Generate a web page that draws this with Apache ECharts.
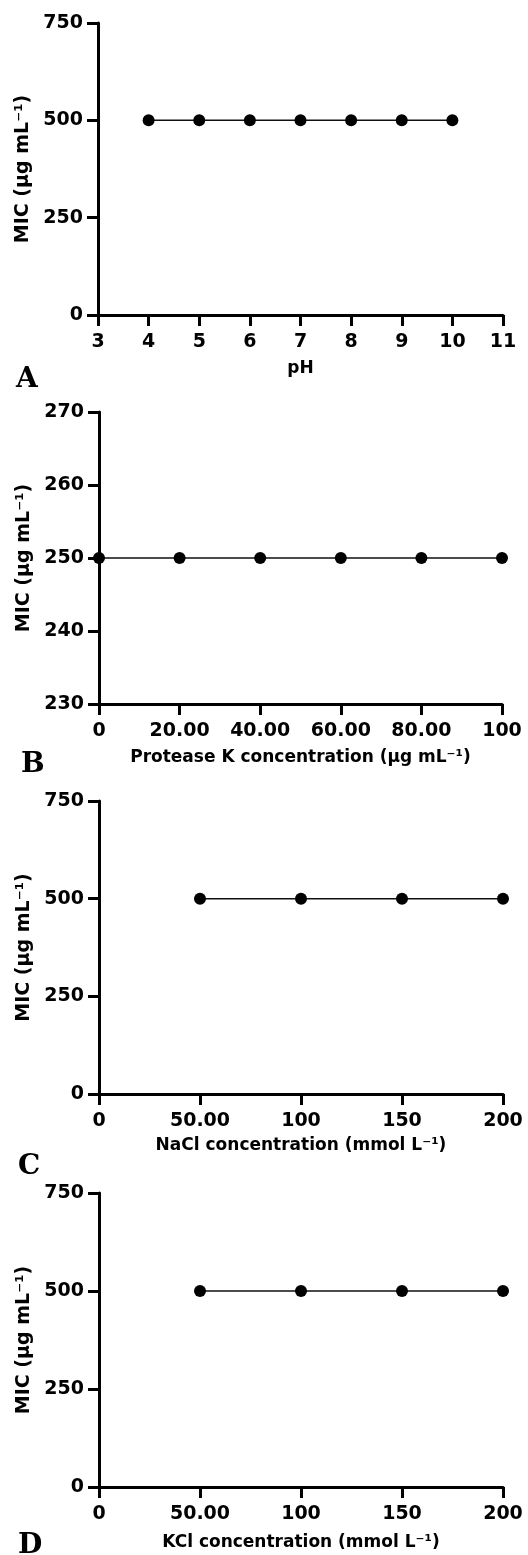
<!DOCTYPE html>
<html>
<head>
<meta charset="utf-8">
<script src="https://cdn.jsdelivr.net/npm/echarts@6/dist/echarts.min.js"></script>
<style>
  html, body { margin: 0; padding: 0; background: #fff; }
  #main { width: 528px; height: 1555px; }
</style>
</head>
<body>
<div id="main"></div>
<script>
// panel A: pH
var phValues = [4, 5, 6, 7, 8, 9, 10];
var phMic = [500, 500, 500, 500, 500, 500, 500];
// panel B: protease K
var proteaseValues = [0, 20, 40, 60, 80, 100];
var proteaseMic = [250, 250, 250, 250, 250, 250];
// panel C: NaCl
var naclValues = [50, 100, 150, 200];
var naclMic = [500, 500, 500, 500];
// panel D: KCl
var kclValues = [50, 100, 150, 200];
var kclMic = [500, 500, 500, 500];

var panelLetters = ["A", "B", "C", "D"];
var xTitles = ["pH", "Protease K concentration (µg mL⁻¹)", "NaCl concentration (mmol L⁻¹)", "KCl concentration (mmol L⁻¹)"];
var yTitle = "MIC (µg mL⁻¹)";

var font = "DejaVu Sans";

function pairs(xs, ys) {
    return xs.map(function (x, i) { return [x, ys[i]]; });
}

// 0 and values >= 100 plain, others with two decimals (as in the figure)
function fixedFmt(maxVal) {
    return function (v) {
        if (v === 0 || v === maxVal || v >= 100) return "" + v;
        return v.toFixed(2);
    };
}

var grids = [
    {left: 98, top: 23, width: 405, height: 292},
    {left: 99, top: 412, width: 403, height: 292},
    {left: 99, top: 801, width: 404, height: 293},
    {left: 99, top: 1193, width: 404, height: 294}
];

var xRanges = [
    {min: 3, max: 11, interval: 1, fmt: function (v) { return "" + v; }, gap: 45},
    {min: 0, max: 100, interval: 20, fmt: fixedFmt(100), gap: 45},
    {min: 0, max: 200, interval: 50, fmt: fixedFmt(200), gap: 43},
    {min: 0, max: 200, interval: 50, fmt: fixedFmt(200), gap: 47}
];
var yRanges = [
    {min: 0, max: 750, interval: 250},
    {min: 230, max: 270, interval: 10},
    {min: 0, max: 750, interval: 250},
    {min: 0, max: 750, interval: 250}
];

var axisLine = {show: true, lineStyle: {color: "#000", width: 3}};
var axisTick = {show: true, length: 11, lineStyle: {color: "#000", width: 3}};

var xAxes = xRanges.map(function (r, i) {
    return {
        type: "value", gridIndex: i, min: r.min, max: r.max, interval: r.interval,
        name: xTitles[i], nameLocation: "middle", nameGap: r.gap,
        nameTextStyle: {color: "#000", fontFamily: font, fontWeight: "bold", fontSize: 17},
        axisLine: axisLine, axisTick: axisTick, splitLine: {show: false},
        axisLabel: {color: "#000", fontFamily: font, fontWeight: "bold", fontSize: 19, margin: 18,
            formatter: r.fmt, showMinLabel: true, showMaxLabel: true}
    };
});

var yAxes = yRanges.map(function (r, i) {
    return {
        type: "value", gridIndex: i, min: r.min, max: r.max, interval: r.interval,
        name: yTitle, nameLocation: "middle", nameGap: 60,
        nameTextStyle: {color: "#000", fontFamily: font, fontWeight: "bold", fontSize: 19},
        axisLine: axisLine, axisTick: axisTick, splitLine: {show: false},
        axisLabel: {color: "#000", fontFamily: font, fontWeight: "bold", fontSize: 19, margin: 15}
    };
});

var seriesData = [
    pairs(phValues, phMic),
    pairs(proteaseValues, proteaseMic),
    pairs(naclValues, naclMic),
    pairs(kclValues, kclMic)
];

var series = seriesData.map(function (d, i) {
    return {
        type: "line", xAxisIndex: i, yAxisIndex: i, data: d,
        symbol: "circle", symbolSize: 12, clip: false,
        itemStyle: {color: "#000"},
        lineStyle: {color: "#111", width: 1.5},
        animation: false
    };
});

var letterPos = [
    {left: 16, top: 366},
    {left: 21, top: 751},
    {left: 18, top: 1153},
    {left: 18, top: 1532}
];
var titles = panelLetters.map(function (t, i) {
    return {
        text: t, left: letterPos[i].left, top: letterPos[i].top, padding: 0,
        textStyle: {fontFamily: "DejaVu Serif", fontWeight: "bold", fontSize: 28, color: "#000"}
    };
});

var chart = echarts.init(document.getElementById("main"));
chart.setOption({
    backgroundColor: "#fff",
    animation: false,
    title: titles,
    grid: grids,
    xAxis: xAxes,
    yAxis: yAxes,
    series: series
});
</script>
</body>
</html>
